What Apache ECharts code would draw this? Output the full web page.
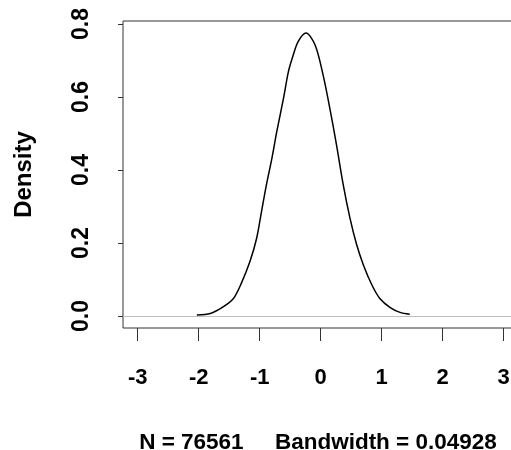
<!DOCTYPE html>
<html>
<head>
<meta charset="utf-8">
<script src="https://cdn.jsdelivr.net/npm/echarts@6/dist/echarts.min.js"></script>
<style>
  html, body { margin: 0; padding: 0; background: #fff; }
  #chart { width: 511px; height: 450px; }
</style>
</head>
<body>
<div id="chart"></div>
<script>
// density estimate
const densityX = [-2.03, -1.81, -1.60, -1.43, -1.30, -1.16, -1.05, -0.97, -0.89, -0.80, -0.72, -0.61, -0.53, -0.45, -0.37, -0.24,
  -0.09, 0.04, 0.15, 0.26, 0.37, 0.48, 0.59, 0.70, 0.84, 0.97, 1.14, 1.30, 1.46];
const densityY = [0.003, 0.007, 0.025, 0.048, 0.090, 0.149, 0.213, 0.286, 0.359, 0.432, 0.505, 0.596, 0.669, 0.715, 0.752, 0.775,
  0.742, 0.660, 0.569, 0.468, 0.359, 0.268, 0.195, 0.140, 0.085, 0.048, 0.023, 0.010, 0.005];
const xTicks = [-3, -2, -1, 0, 1, 2, 3];
const yTicks = [0, 0.2, 0.4, 0.6, 0.8];
const subTitle = "N = 76561     Bandwidth = 0.04928";

let chart = echarts.init(document.getElementById("chart"));
const font = "Liberation Sans, Arial, sans-serif";

chart.setOption({
  animation: false,
  title: {
    text: subTitle,
    left: 318,
    textAlign: "center",
    top: 432,
    padding: 0,
    textStyle: { fontFamily: font, fontSize: 22.5, fontWeight: "bold", color: "#000", lineHeight: 22 },
  },
  grid: {
    left: 123,
    top: 21,
    right: -20,
    bottom: 122,
    outerBoundsMode: "none",
    containLabel: false,
    show: true,
    borderColor: "#333",
    borderWidth: 1,
    backgroundColor: "transparent",
  },
  xAxis: {
    type: "value",
    min: -3.241,
    max: 3.448,
    axisLine: { show: false, onZero: false },
    splitLine: { show: false },
    axisTick: { show: true, length: 13, customValues: xTicks, lineStyle: { color: "#333" } },
    axisLabel: {
      customValues: xTicks,
      margin: 39,
      fontFamily: font,
      fontSize: 22,
      fontWeight: "bold",
      color: "#000",
    },
  },
  yAxis: {
    type: "value",
    min: -0.0329,
    max: 0.8082,
    name: "Density",
    nameLocation: "middle",
    nameRotate: 90,
    nameGap: 87,
    nameTextStyle: { fontFamily: font, fontSize: 24, fontWeight: "bold", color: "#000" },
    axisLine: { show: false, onZero: false },
    splitLine: { show: false },
    axisTick: { show: true, length: 5, customValues: yTicks, lineStyle: { color: "#333" } },
    axisLabel: {
      customValues: yTicks,
      rotate: 90,
      margin: 30,
      fontFamily: font,
      fontSize: 23,
      fontWeight: "bold",
      color: "#000",
      formatter: (v) => v.toFixed(1),
    },
  },
  series: [
    {
      type: "line",
      data: densityX.map((x, i) => [x, densityY[i]]),
      smooth: 0.3,
      symbol: "none",
      lineStyle: { color: "#000", width: 1.5 },
      markLine: {
        silent: true,
        symbol: "none",
        label: { show: false },
        lineStyle: { color: "#bebebe", width: 1, type: "solid" },
        data: [{ yAxis: 0 }],
      },
      z: 3,
    },
  ],
});
</script>
</body>
</html>
